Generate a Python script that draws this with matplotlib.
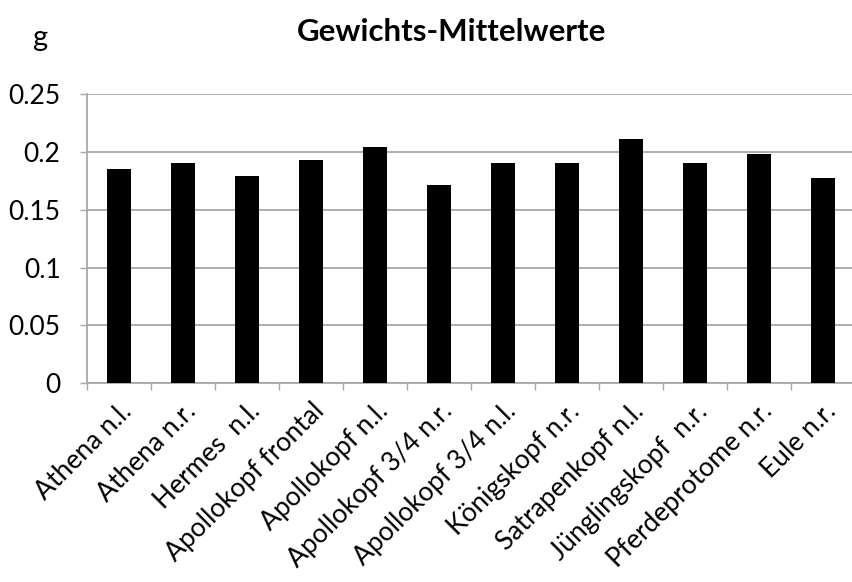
import matplotlib
matplotlib.use("Agg")
import matplotlib.pyplot as plt
import numpy as np

kategorien = ["Athena n.l.", "Athena n.r.", "Hermes  n.l.", "Apollokopf frontal",
              "Apollokopf n.l.", "Apollokopf 3/4 n.r.", "Apollokopf 3/4 n.l.",
              "Königskopf n.r.", "Satrapenkopf n.l.", "Jünglingskopf  n.r.",
              "Pferdeprotome n.r.", "Eule n.r."]
mittelwerte = [0.185, 0.190, 0.179, 0.193, 0.204, 0.171, 0.190,
               0.190, 0.211, 0.190, 0.198, 0.177]
y_ticks = [0, 0.05, 0.1, 0.15, 0.2, 0.25]
y_labels = ["0", "0.05", "0.1", "0.15", "0.2", "0.25"]

plt.rcParams['font.family'] = ['Lato', 'DejaVu Sans']
grau = '#a8a8a8'

fig = plt.figure(figsize=(8.52, 5.82), dpi=100)
ax = fig.add_axes([0.1021, 0.3414, 0.8979, 0.4971])

x = np.arange(len(kategorien))
ax.bar(x, mittelwerte, width=0.37, color='black', zorder=3)

ax.set_ylim(0, 0.25)
ax.set_xlim(-0.5, len(kategorien) - 0.5 - 0.05)
ax.set_yticks(y_ticks)
ax.set_yticklabels(y_labels, fontsize=19)
ax.yaxis.grid(True, color=grau, linewidth=1.3, zorder=0)
ax.tick_params(axis='y', length=5, color=grau, width=1, pad=14)

ax.set_xticks(x)
ax.set_xticklabels(kategorien, rotation=45, ha='right', rotation_mode='anchor', fontsize=19)
ax.tick_params(axis='x', which='major', length=0, pad=11)
ax.set_xticks(np.arange(-0.5, len(kategorien) - 0.5, 1), minor=True)
ax.tick_params(axis='x', which='minor', length=5, color=grau, width=1)

for s in ['top', 'right']:
    ax.spines[s].set_visible(False)
for s in ['left', 'bottom']:
    ax.spines[s].set_color(grau)
    ax.spines[s].set_linewidth(1.3)

fig.text(0.53, 0.945, "Gewichts-Mittelwerte", fontsize=22.5, fontweight='bold',
         ha='center', va='center')
fig.text(0.047, 0.935, "g", fontsize=21, ha='center', va='center')

fig.savefig("out.png", dpi=100)
